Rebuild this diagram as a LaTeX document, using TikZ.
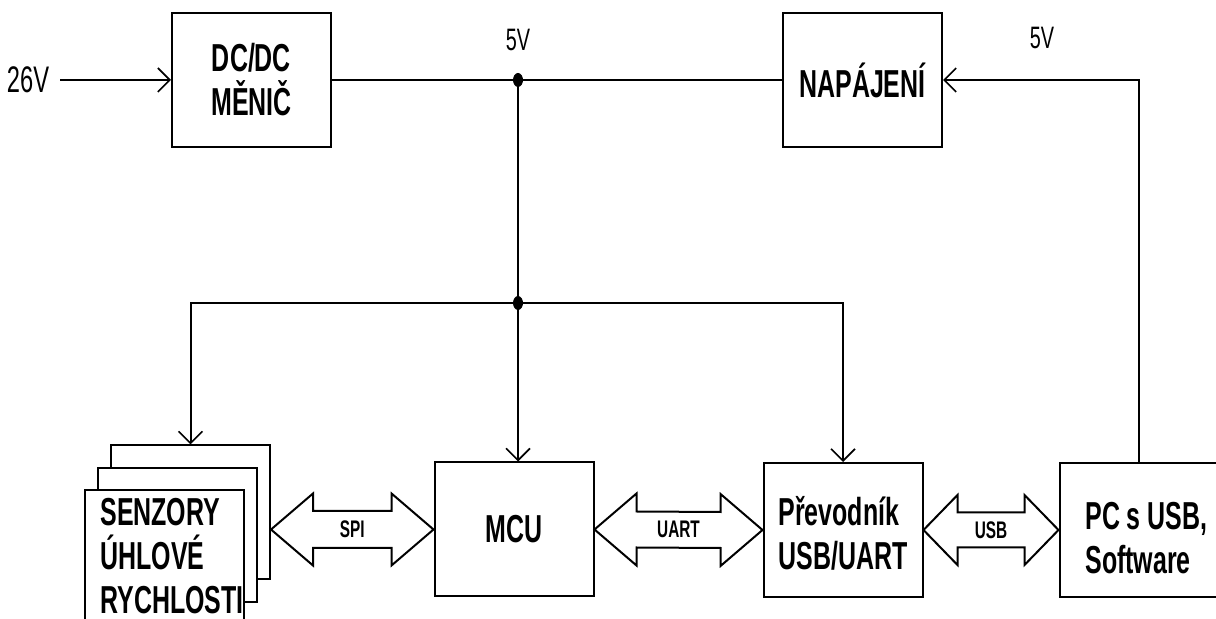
\documentclass[tikz,border=0pt]{standalone}
\usepackage{fontspec}
\usepackage{tikz}
\usetikzlibrary{arrows.meta,calc,positioning}
\setmainfont{Liberation Sans}
\newfontfamily\uzky[FakeStretch=0.64]{Liberation Sans}
\tikzset{
  vodic/.style={line width=1pt,color=black},
  sipka/.style={-{Straight Barb[length=6pt,width=12pt,line width=0.8pt]}},
  blok/.style={draw=black,fill=white,line width=1pt,minimum width=79.5pt,minimum height=67pt,inner sep=0pt},
  napis/.style={font=\uzky\bfseries\fontsize{19.5}{22}\selectfont,align=center,inner sep=0pt},
  napisl/.style={napis,align=left},
  popis/.style={font=\uzky\fontsize{18.5}{22}\selectfont,inner sep=0pt},
  popis5/.style={font=\uzky\fontsize{15.5}{18}\selectfont,inner sep=0pt},
  sbernicefont/.style={font=\uzky\bfseries\fontsize{12}{14}\selectfont,inner sep=0pt},
  sbernice/.style={draw=black,fill=white,line width=1pt,line join=miter}
}
% oboustranna sipka sbernice: od, do, delka hrotu, pul hrotu, pul drzaku, text
\newcommand{\sbernice}[6]{%
  \draw[sbernice] (#1) -- ($(#1)+(#3,-#4)$) -- ($(#1)+(#3,-#5)$)
    -- ($(#2)+(-#3,-#5)$) -- ($(#2)+(-#3,-#4)$) -- (#2)
    -- ($(#2)+(-#3,#4)$) -- ($(#2)+(-#3,#5)$)
    -- ($(#1)+(#3,#5)$) -- ($(#1)+(#3,#4)$) -- cycle;
  \path (#1) -- node[sbernicefont] (l#6) {#6} (#2);
}

\begin{document}
\begin{tikzpicture}[x=0.5pt,y=-0.5pt]
  \useasboundingbox (0,0) rectangle (1216,619);

  % napajeci cast
  \node[popis] (u26) at (28,80) {26V};
  \node[blok,napis] (dcdc) at (251.5,80) {DC/DC\\MĚNIČ};
  \node[blok,napis] (nap) at (862.5,80) {NAPÁJENÍ};
  \node[popis5] (u5a) at (518,40) {5V};
  \node[popis5] (u5b) at (1042,38) {5V};
  \coordinate (j1) at (518,80);
  \coordinate (j2) at (518,303);

  % bloky dole
  \node[blok] (sen3) at (190.5,512.5) {};
  \node[blok] (sen2) at (177.5,535.5) {};
  \node[blok] (sen1) at (164,557.5) {};
  \node[napisl,anchor=west] (tsen) at (100,556) {SENZORY\\ÚHLOVÉ\\RYCHLOSTI};
  \node[blok,napis] (mcu) at (514,529.5) {MCU};
  \node[blok] (prev) at (843,530) {};
  \node[napisl,anchor=west] (tprev) at (778,533) {Převodník\\USB/UART};
  \node[blok] (pc) at (1139,530) {};
  \node[napisl,anchor=west] (tpc) at (1085,538) {PC s USB,\\Software};

  % vodice
  \draw[vodic,sipka,shorten <=5.5pt] (u26.east) -- (dcdc.west);
  \draw[vodic] (dcdc.east) -- (j1) -- (nap.west);
  \draw[vodic,sipka] (pc.north) |- (nap.east);
  \draw[vodic] (j1) -- (j2);
  \draw[vodic,sipka] (j2) -- (j2 |- mcu.north);
  \draw[vodic,sipka] (j2) -| (sen3.north);
  \draw[vodic,sipka] (j2) -| (prev.north);
  \fill (j1) ellipse (5 and 7);
  \fill (j2) ellipse (5 and 7);

  % sbernice
  \sbernice{sen3.east |- mcu.west}{mcu.west}{42}{36}{18.5}{SPI}
  \sbernice{mcu.east}{prev.west}{42}{36}{18}{UART}
  \sbernice{prev.east}{pc.west}{34}{35}{17.5}{USB}
\end{tikzpicture}
\end{document}
